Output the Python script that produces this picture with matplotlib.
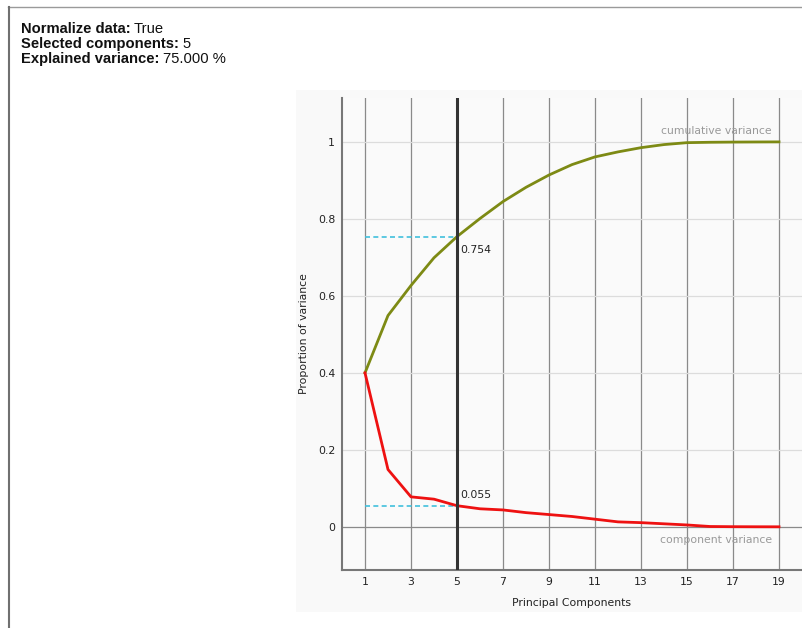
import numpy as np
import matplotlib
matplotlib.use("Agg")
import matplotlib.pyplot as plt
from matplotlib.patches import Rectangle
from matplotlib.lines import Line2D

# PCA scree data
components = list(range(1, 20))
component_variance = [0.400, 0.149, 0.078, 0.072, 0.055, 0.047, 0.044, 0.037,
                      0.032, 0.027, 0.020, 0.013, 0.011, 0.008, 0.005, 0.001,
                      0.0005, 0.0003, 0.0002]
cumulative_variance = np.cumsum(component_variance)
selected = 5
x_ticks = [1, 3, 5, 7, 9, 11, 13, 15, 17, 19]
y_ticks = [0, 0.2, 0.4, 0.6, 0.8, 1.0]
y_tick_labels = ["0", "0.2", "0.4", "0.6", "0.8", "1"]

W, H = 803, 628
fig = plt.figure(figsize=(W / 100, H / 100), dpi=100)
fig.patch.set_facecolor("white")


def fx(px):
    return px / W


def fy(py):
    return 1 - py / H


# widget frame lines
fig.add_artist(Line2D([fx(8), fx(803)], [fy(7), fy(7)], color="#9a9a9a", lw=1.0))
fig.add_artist(Line2D([fx(8.5), fx(8.5)], [fy(7), fy(628)], color="#707070", lw=1.5))

# plot panel background
fig.add_artist(Rectangle((fx(296), fy(612)), fx(803) - fx(296), fy(90) - fy(612),
                         transform=fig.transFigure, facecolor="#f9f9f9",
                         edgecolor="none", zorder=0))

# info header
info = [("Normalize data:", "True"),
        ("Selected components:", "5"),
        ("Explained variance:", "75.000 %")]
for i, (key, val) in enumerate(info):
    base = 33 + i * 15
    t = fig.text(fx(21), fy(base), key, fontsize=10.6, fontweight="bold",
                 family="Liberation Sans", va="baseline", color="#111111")
    fig.canvas.draw()
    bb = t.get_window_extent()
    fig.text((bb.x1 + 3.5) / W, fy(base), val, fontsize=10.6,
             family="Liberation Sans", va="baseline", color="#111111")

# axes
left, right, top, bottom = 342, 802, 98, 570
ax = fig.add_axes([fx(left), fy(bottom), fx(right) - fx(left), fy(top) - fy(bottom)])
ax.set_facecolor("#fafafa")
ax.set_xlim(0, 20)
ax.set_ylim(-0.112, 1.114)

for s in ["top", "right"]:
    ax.spines[s].set_visible(False)
for s in ["left", "bottom"]:
    ax.spines[s].set_color("#777777")
    ax.spines[s].set_linewidth(1.5)

ax.set_xticks(x_ticks)
ax.set_yticks(y_ticks)
ax.set_yticklabels(y_tick_labels)
ax.tick_params(axis="both", length=0, labelsize=7.8, colors="#222222", pad=5)
ax.tick_params(axis="x", pad=5)

for xv in x_ticks:
    ax.axvline(xv, color="#8a8a8a", lw=0.9, zorder=1)
for yv in y_ticks:
    ax.axhline(yv, color="#8a8a8a" if yv == 0 else "#dcdcdc", lw=0.9, zorder=1)

# selected-components marker
ax.axvline(selected, color="#333333", lw=2.2, zorder=4)

cum_sel = cumulative_variance[selected - 1]
comp_sel = component_variance[selected - 1]
ax.plot([1, selected], [cum_sel, cum_sel], color="#40c0dc", lw=1.2,
        dashes=(3, 2), zorder=2)
ax.plot([1, selected], [comp_sel, comp_sel], color="#40c0dc", lw=1.2,
        dashes=(3, 2), zorder=2)

ax.plot(components, cumulative_variance, color="#7d8a14", lw=2.0, zorder=3)
ax.plot(components, component_variance, color="#ee1111", lw=2.0, zorder=3)

ax.annotate(f"{cum_sel:.3f}", (selected, cum_sel), xytext=(2, -6),
            textcoords="offset points", ha="left", va="top",
            fontsize=7.8, color="#222222", zorder=5)
ax.annotate(f"{comp_sel:.3f}", (selected, comp_sel), xytext=(2, 4),
            textcoords="offset points", ha="left", va="bottom",
            fontsize=7.8, color="#222222", zorder=5)

ax.annotate("cumulative variance", (19, 1.0), xytext=(-5, 4),
            textcoords="offset points", ha="right", va="bottom",
            fontsize=7.8, color="#999999", zorder=5)
ax.annotate("component variance", (19, 0.0), xytext=(-5, -6),
            textcoords="offset points", ha="right", va="top",
            fontsize=7.8, color="#999999", zorder=5)

ax.set_xlabel("Principal Components", fontsize=7.8, color="#222222", labelpad=8)
ax.set_ylabel("Proportion of variance", fontsize=7.8, color="#222222", labelpad=6)

fig.savefig("out.png", dpi=100, facecolor="white")
